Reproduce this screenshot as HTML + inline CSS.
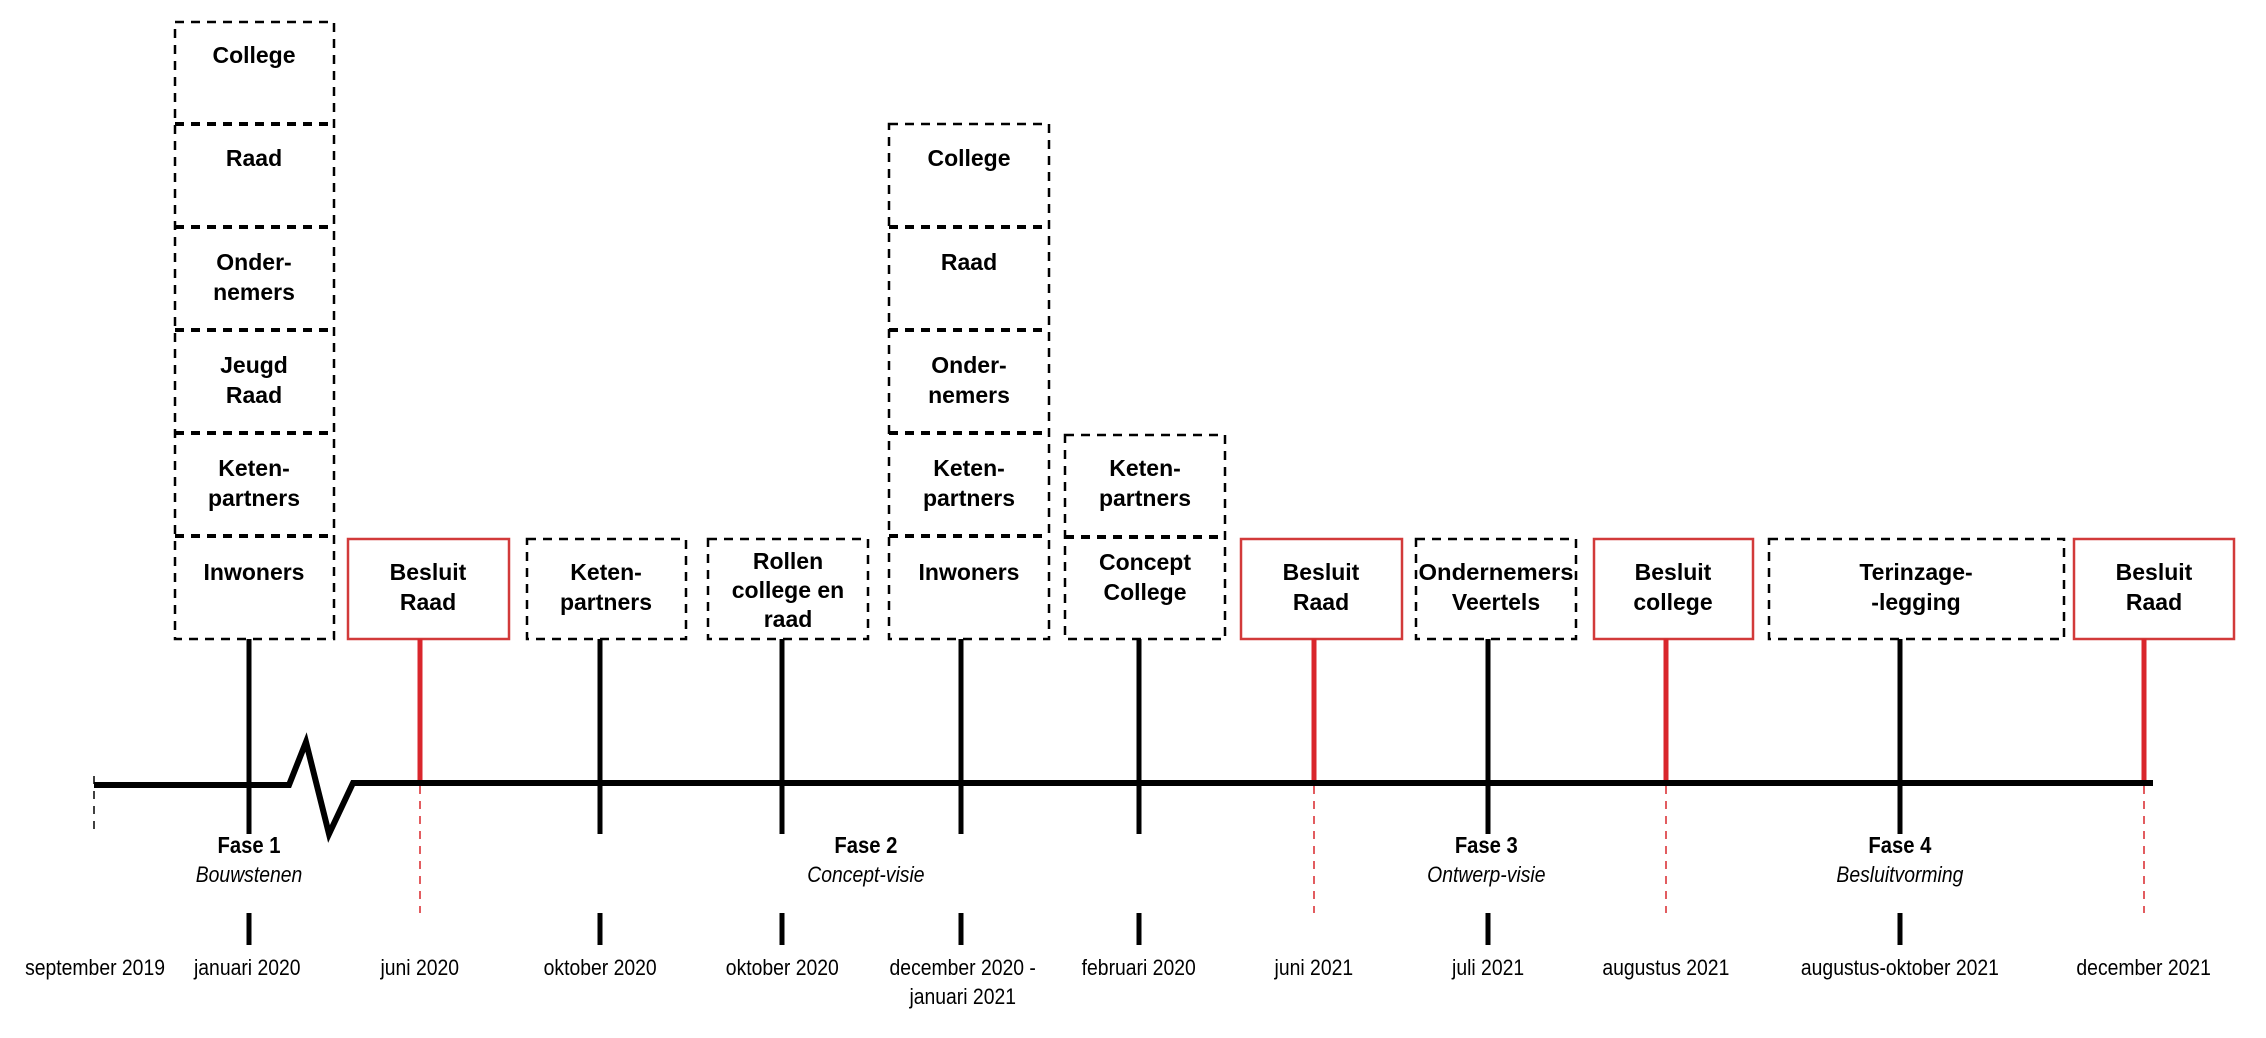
<!DOCTYPE html>
<html><head><meta charset="utf-8"><style>
html,body{margin:0;padding:0;background:#fff;}
svg{display:block;}
.b{font-family:"Liberation Sans",Arial,sans-serif;font-weight:bold;font-size:23px;fill:#000;text-anchor:middle;dominant-baseline:central;}
.n{font-family:"Liberation Sans",sans-serif;font-size:22px;fill:#000;text-anchor:middle;dominant-baseline:central;}
.nb{font-weight:bold;}
.i{font-style:italic;}
</style></head><body>
<svg width="2266" height="1038" viewBox="0 0 2266 1038" xmlns="http://www.w3.org/2000/svg">
<g fill="none" stroke="#000" stroke-width="2.5" stroke-dasharray="9,7">
<rect x="175" y="22" width="159" height="617"/>
<line x1="175" y1="124" x2="334" y2="124" stroke-width="4"/>
<line x1="175" y1="227" x2="334" y2="227" stroke-width="4"/>
<line x1="175" y1="330" x2="334" y2="330" stroke-width="4"/>
<line x1="175" y1="433" x2="334" y2="433" stroke-width="4"/>
<line x1="175" y1="536" x2="334" y2="536" stroke-width="4"/>
<rect x="527" y="539" width="159" height="100"/>
<rect x="708" y="539" width="160" height="100"/>
<rect x="889" y="124" width="160" height="515"/>
<line x1="889" y1="227" x2="1049" y2="227" stroke-width="4"/>
<line x1="889" y1="330" x2="1049" y2="330" stroke-width="4"/>
<line x1="889" y1="433" x2="1049" y2="433" stroke-width="4"/>
<line x1="889" y1="536" x2="1049" y2="536" stroke-width="4"/>
<rect x="1065" y="435" width="160" height="204"/>
<line x1="1065" y1="537" x2="1225" y2="537" stroke-width="4"/>
<rect x="1416" y="539" width="160" height="100"/>
<rect x="1769" y="539" width="295" height="100"/>
</g>
<g fill="none" stroke="#d23a3a" stroke-width="2.5">
<rect x="348" y="539" width="161" height="100"/>
<rect x="1241" y="539" width="161" height="100"/>
<rect x="1594" y="539" width="159" height="100"/>
<rect x="2074" y="539" width="160" height="100"/>
</g>
<g stroke="#000" stroke-width="5">
<line x1="249" y1="639" x2="249" y2="834"/>
<line x1="600" y1="639" x2="600" y2="834"/>
<line x1="782" y1="639" x2="782" y2="834"/>
<line x1="961" y1="639" x2="961" y2="834"/>
<line x1="1139" y1="639" x2="1139" y2="834"/>
<line x1="1488" y1="639" x2="1488" y2="834"/>
<line x1="1900" y1="639" x2="1900" y2="834"/>
<line x1="249" y1="913" x2="249" y2="945"/>
<line x1="600" y1="913" x2="600" y2="945"/>
<line x1="782" y1="913" x2="782" y2="945"/>
<line x1="961" y1="913" x2="961" y2="945"/>
<line x1="1139" y1="913" x2="1139" y2="945"/>
<line x1="1488" y1="913" x2="1488" y2="945"/>
<line x1="1900" y1="913" x2="1900" y2="945"/>
</g>
<g stroke="#d9262c" stroke-width="5">
<line x1="420" y1="639" x2="420" y2="783"/>
<line x1="1314" y1="639" x2="1314" y2="783"/>
<line x1="1666" y1="639" x2="1666" y2="783"/>
<line x1="2144" y1="639" x2="2144" y2="783"/>
</g>
<g stroke="#d9262c" stroke-width="1.5" stroke-dasharray="8,7">
<line x1="420" y1="786" x2="420" y2="913"/>
<line x1="1314" y1="786" x2="1314" y2="913"/>
<line x1="1666" y1="786" x2="1666" y2="913"/>
<line x1="2144" y1="786" x2="2144" y2="913"/>
</g>
<line x1="94" y1="776" x2="94" y2="834" stroke="#000" stroke-width="1.5" stroke-dasharray="8,7"/>
<polyline points="94,785 289,785 306,742 329,834 353,783 2153,783" fill="none" stroke="#000" stroke-width="6" stroke-linejoin="miter"/>
<text class="b" x="254" y="55">College</text>
<text class="b" x="254" y="158">Raad</text>
<text class="b" x="254" y="262">Onder-</text>
<text class="b" x="254" y="292">nemers</text>
<text class="b" x="254" y="365">Jeugd</text>
<text class="b" x="254" y="395">Raad</text>
<text class="b" x="254" y="468">Keten-</text>
<text class="b" x="254" y="498">partners</text>
<text class="b" x="254" y="572">Inwoners</text>
<text class="b" x="428" y="572">Besluit</text>
<text class="b" x="428" y="602">Raad</text>
<text class="b" x="606" y="572">Keten-</text>
<text class="b" x="606" y="602">partners</text>
<text class="b" x="788" y="561">Rollen</text>
<text class="b" x="788" y="590">college en</text>
<text class="b" x="788" y="619">raad</text>
<text class="b" x="969" y="158">College</text>
<text class="b" x="969" y="262">Raad</text>
<text class="b" x="969" y="365">Onder-</text>
<text class="b" x="969" y="395">nemers</text>
<text class="b" x="969" y="468">Keten-</text>
<text class="b" x="969" y="498">partners</text>
<text class="b" x="969" y="572">Inwoners</text>
<text class="b" x="1145" y="468">Keten-</text>
<text class="b" x="1145" y="498">partners</text>
<text class="b" x="1145" y="562">Concept</text>
<text class="b" x="1145" y="592">College</text>
<text class="b" x="1321" y="572">Besluit</text>
<text class="b" x="1321" y="602">Raad</text>
<text class="b" x="1496" y="572" textLength="155" lengthAdjust="spacingAndGlyphs">Ondernemers</text>
<text class="b" x="1496" y="602">Veertels</text>
<text class="b" x="1673" y="572">Besluit</text>
<text class="b" x="1673" y="602">college</text>
<text class="b" x="1916" y="572">Terinzage-</text>
<text class="b" x="1916" y="602">-legging</text>
<text class="b" x="2154" y="572">Besluit</text>
<text class="b" x="2154" y="602">Raad</text>
<g transform="scale(0.88,1)">
<text class="n nb" x="283" y="845" style="font-size:23px">Fase 1</text>
<text class="n i" x="283" y="875">Bouwstenen</text>
<text class="n nb" x="984" y="845" style="font-size:23px">Fase 2</text>
<text class="n i" x="984" y="875">Concept-visie</text>
<text class="n nb" x="1689" y="845" style="font-size:23px">Fase 3</text>
<text class="n i" x="1689" y="875">Ontwerp-visie</text>
<text class="n nb" x="2159" y="845" style="font-size:23px">Fase 4</text>
<text class="n i" x="2159" y="875">Besluitvorming</text>
<text class="n" x="108" y="968">september 2019</text>
<text class="n" x="281" y="968">januari 2020</text>
<text class="n" x="477" y="968">juni 2020</text>
<text class="n" x="682" y="968">oktober 2020</text>
<text class="n" x="889" y="968">oktober 2020</text>
<text class="n" x="1094" y="968">december 2020 -</text>
<text class="n" x="1094" y="997">januari 2021</text>
<text class="n" x="1294" y="968">februari 2020</text>
<text class="n" x="1493" y="968">juni 2021</text>
<text class="n" x="1691" y="968">juli 2021</text>
<text class="n" x="1893" y="968">augustus 2021</text>
<text class="n" x="2159" y="968">augustus-oktober 2021</text>
<text class="n" x="2436" y="968">december 2021</text>
</g>
</svg>
</body></html>
